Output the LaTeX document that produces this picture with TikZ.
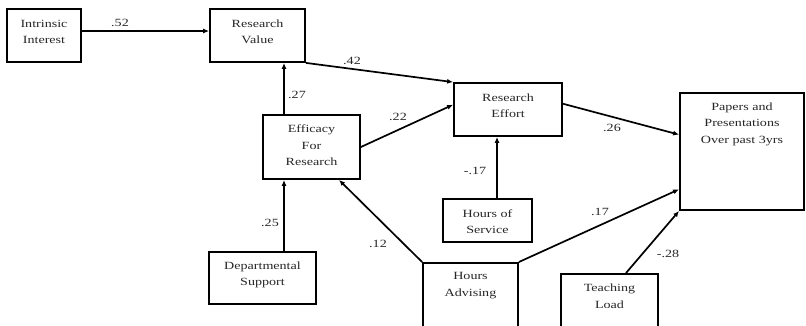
\documentclass[tikz,border=0pt]{standalone}
\usepackage{fontspec}
\setmainfont{Liberation Serif}[FakeStretch=1.28]
\usetikzlibrary{arrows.meta,calc}
\begin{document}
\begin{tikzpicture}[x=1pt,y=-1pt,
 box/.style={draw, line width=1.8pt, rectangle, inner sep=0pt},
 txt/.style={align=center, inner sep=0pt, text=black!85, font=\fontsize{11}{16.5}\selectfont},
 lbl/.style={inner sep=0pt, text=black!85, font=\fontsize{11}{13}\selectfont},
 arr/.style={line width=1.7pt, -{Latex[length=6pt,width=5pt]}}]
\clip (0,0) rectangle (806,325);
% boxes
\node[box, minimum width=74, minimum height=53] (ii) at (44,35.5) {};
\node[box, minimum width=95, minimum height=53] (rv) at (257.5,35.5) {};
\node[box, minimum width=97, minimum height=64] (ef) at (311.5,147) {};
\node[box, minimum width=107, minimum height=52] (ds) at (262.5,278) {};
\node[box, minimum width=108, minimum height=53] (re) at (508,109.5) {};
\node[box, minimum width=89, minimum height=43] (hs) at (487.5,220.5) {};
\node[box, minimum width=95, minimum height=80, anchor=north] (ha) at (470.5,262) {};
\node[box, minimum width=97, minimum height=80, anchor=north] (tl) at (609.5,273) {};
\node[box, minimum width=124, minimum height=117] (pp) at (742,151.5) {};
% texts
\node[txt] (ii-t) at (44,32) {Intrinsic\\Interest};
\node[txt] (rv-t) at (257.5,32) {Research\\Value};
\node[txt] (ef-t) at (311.5,145.5) {Efficacy\\For\\Research};
\node[txt] (ds-t) at (262.5,275) {Departmental\\Support};
\node[txt] (re-t) at (508,105.5) {Research\\Effort};
\node[txt] (hs-t) at (487.5,221.5) {Hours of\\Service};
\node[txt] (ha-t) at (470.5,285.5) {Hours\\Advising};
\node[txt] (tl-t) at (609.5,296) {Teaching\\Load};
\node[txt] (pp-t) at (742,124) {Papers and\\Presentations\\Over past 3yrs};
% helper coordinates
\coordinate (row) at (0,31);
\coordinate (col) at (284,0);
\coordinate (col2) at (497,0);
% connectors
\draw[arr] (ii.east |- row) -- (rv.west |- row);
\draw[arr] (ef.north -| col) -- (rv.south -| col);
\draw[arr] (ds.north -| col) -- (ef.south -| col);
\draw[arr] (rv.south east) -- (re.north west);
\draw[arr] (ef.east) -- (re.175);
\draw[arr] (hs.north -| col2) -- (re.south -| col2);
\draw[arr] (re.6) -- (pp.165);
\draw[arr] (ha.north east) -- (pp.211);
\draw[arr] ($(tl.north)+(16.5,0)$) -- (pp.south west);
\draw[arr] (ha.north west) -- ($(ef.south)+(27.5,0)$);
% labels
\node[lbl] (l52) at (120,23) {.52};
\node[lbl] (l27) at (297,95) {.27};
\node[lbl] (l42) at (352,61) {.42};
\node[lbl] (l22) at (398,117) {.22};
\node[lbl] (l17a) at (475,171) {-.17};
\node[lbl] (l26) at (612,128) {.26};
\node[lbl] (l17b) at (600,212) {.17};
\node[lbl] (l28) at (668,254) {-.28};
\node[lbl] (l12) at (378,244) {.12};
\node[lbl] (l25) at (270,223) {.25};
\end{tikzpicture}
\end{document}
